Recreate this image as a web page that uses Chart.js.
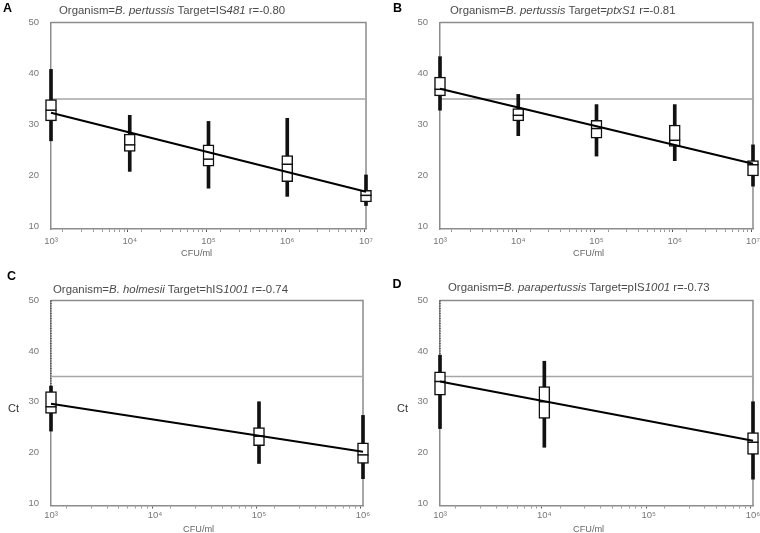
<!DOCTYPE html>
<html><head><meta charset="utf-8">
<script src="https://cdn.jsdelivr.net/npm/chart.js@4/dist/chart.umd.min.js"></script>
<style>
html,body{margin:0;padding:0;background:#fff;overflow:hidden;width:760px;height:533px;}
body{position:relative;font-family:"Liberation Sans",Arial,sans-serif;}
canvas{position:absolute;}
.lt{position:absolute;font-weight:bold;font-size:12.5px;color:#000;line-height:1;white-space:nowrap;}
.ti{position:absolute;font-size:11.4px;color:#4a4a4a;white-space:nowrap;line-height:1;}
.ax{position:absolute;font-size:9.2px;color:#666;white-space:nowrap;line-height:1;}
.ct{position:absolute;font-size:11px;color:#333;white-space:nowrap;line-height:1;}
</style></head><body>
<canvas id="cA" width="380" height="265" style="left:0;top:0"></canvas>
<canvas id="cB" width="380" height="265" style="left:380px;top:0"></canvas>
<canvas id="cC" width="380" height="268" style="left:0;top:265px"></canvas>
<canvas id="cD" width="380" height="268" style="left:380px;top:265px"></canvas>

<div class="lt" style="left:3px;top:1.5px">A</div>
<div class="lt" style="left:393px;top:1.5px">B</div>
<div class="lt" style="left:7px;top:269.5px">C</div>
<div class="lt" style="left:392.5px;top:278px">D</div>

<div class="ti" style="left:59px;top:5.4px">Organism=<i>B. pertussis</i> Target=IS<i>481</i> r=-0.80</div>
<div class="ti" style="left:450px;top:5.4px">Organism=<i>B. pertussis</i> Target=<i>ptxS1</i> r=-0.81</div>
<div class="ti" style="left:53px;top:283.7px">Organism=<i>B. holmesii</i> Target=hIS<i>1001</i> r=-0.74</div>
<div class="ti" style="left:448px;top:282px">Organism=<i>B. parapertussis</i> Target=pIS<i>1001</i> r=-0.73</div>

<div class="ax" style="left:181px;top:249.2px">CFU/ml</div>
<div class="ax" style="left:573px;top:249.2px">CFU/ml</div>
<div class="ax" style="left:183px;top:524.7px">CFU/ml</div>
<div class="ax" style="left:573px;top:524.7px">CFU/ml</div>

<div class="ct" style="left:8px;top:403px">Ct</div>
<div class="ct" style="left:397px;top:403px">Ct</div>

<script>
// ---- tick labels / reference values ----
const xTickValuesAB = [1e3, 1e4, 1e5, 1e6, 1e7];
const xTickLabelsAB = ['10³', '10⁴', '10⁵', '10⁶', '10⁷'];
const xTickValuesCD = [1e3, 1e4, 1e5, 1e6];
const xTickLabelsCD = ['10³', '10⁴', '10⁵', '10⁶'];
const yTickValues = [10, 20, 30, 40, 50];
const ctThreshold = 35;

// ---- Panel A: B. pertussis, IS481 ----
const cfuA = [1e3, 1e4, 1e5, 1e6, 1e7];
const whiskerLowA  = [26.8, 20.8, 17.5, 15.9, 14.1];
const boxLowA      = [30.7, 24.7, 21.8, 18.8, 14.8];
const medianA      = [32.8, 26.0, 23.2, 22.2, 16.1];
const boxHighA     = [34.9, 28.1, 26.0, 23.9, 17.1];
const whiskerHighA = [40.8, 31.8, 30.6, 31.2, 20.1];
const fitCfuA = [1e3, 1e7];
const fitCtA  = [32.3, 16.8];

// ---- Panel B: B. pertussis, ptxS1 ----
const cfuB = [1e3, 1e4, 1e5, 1e6, 1e7];
const whiskerLowB  = [32.8, 27.8, 23.8, 22.9, 17.9];
const boxLowB      = [35.6, 30.7, 27.3, 25.7, 19.9];
const medianB      = [36.9, 31.8, 29.2, 26.9, 22.1];
const boxHighB     = [39.3, 33.1, 30.8, 29.9, 22.9];
const whiskerHighB = [43.3, 35.9, 33.9, 33.9, 26.0];
const fitCfuB = [1e3, 1e7];
const fitCtB  = [37.0, 22.3];

// ---- Panel C: B. holmesii, hIS1001 ----
const cfuC = [1e3, 1e5, 1e6];
const whiskerLowC  = [24.2, 17.8, 14.8];
const boxLowC      = [27.7, 21.3, 17.8];
const medianC      = [29.0, 23.2, 19.5];
const boxHighC     = [32.0, 24.9, 21.9];
const whiskerHighC = [33.1, 30.0, 27.3];
const fitCfuC = [1e3, 1e6];
const fitCtC  = [29.6, 20.1];

// ---- Panel D: B. parapertussis, pIS1001 ----
const cfuD = [1e3, 1e4, 1e6];
const whiskerLowD  = [24.7, 21.0, 14.7];
const boxLowD      = [31.3, 26.7, 19.6];
const medianD      = [34.0, 30.0, 22.0];
const boxHighD     = [35.9, 33.0, 23.9];
const whiskerHighD = [39.2, 38.0, 30.0];
const fitCfuD = [1e3, 1e6];
const fitCtD  = [34.0, 22.3];

// frame plugin: top + right border of the plot box, optional dotted left axis
const framePlugin = {
  id: 'frame',
  beforeDatasetsDraw(chart, args, opts) {
    const {ctx, chartArea: a} = chart;
    ctx.save();
    ctx.strokeStyle = '#8c8c8c';
    ctx.lineWidth = 1.5;
    ctx.beginPath();
    ctx.moveTo(a.left, a.top);
    ctx.lineTo(a.right, a.top);
    ctx.lineTo(a.right, a.bottom);
    ctx.stroke();
    if (opts.dotted) {
      const yEnd = chart.scales.y.getPixelForValue(opts.dottedTo);
      ctx.strokeStyle = '#222';
      ctx.lineWidth = 1;
      ctx.setLineDash([1, 1.5]);
      ctx.beginPath();
      ctx.moveTo(a.left, a.top);
      ctx.lineTo(a.left, yEnd);
      ctx.stroke();
    }
    ctx.restore();
  }
};

function logTicks(min, max) {
  const out = [];
  for (let p = Math.log10(min); p < Math.log10(max); p++) {
    const base = Math.pow(10, p);
    for (let k = 1; k <= 9; k++) out.push({value: k * base});
  }
  out.push({value: max});
  return out;
}

function makePanel(id, cfg) {
  const pts = arr => cfg.x.map((x, i) => ({x, y: arr[i]}));
  const ranges = (lo, hi) => cfg.x.map((x, i) => ({x, y: [lo[i], hi[i]]}));
  new Chart(document.getElementById(id), {
    type: 'bar',
    data: {
      datasets: [
        {type: 'line', data: cfg.fitX.map(x => ({x, y: ctThreshold})), borderColor: '#a6a6a6',
         borderWidth: 1.5, pointRadius: 0, order: 5},
        {type: 'bar', data: ranges(cfg.wl, cfg.wh), backgroundColor: '#111', borderWidth: 0,
         barThickness: 3, grouped: false, order: 4, clip: false},
        {type: 'bar', data: ranges(cfg.bl, cfg.bh), backgroundColor: '#fff', borderColor: '#111',
         borderWidth: 1.5, borderSkipped: false, barThickness: 11, grouped: false, order: 3, clip: false},
        {type: 'line', data: pts(cfg.med), showLine: false, pointStyle: 'line', pointRadius: 5.5,
         pointBorderColor: '#111', pointBorderWidth: 1.5, borderColor: '#111', order: 2, clip: false},
        {type: 'line', data: cfg.fitX.map((x, i) => ({x, y: cfg.fit[i]})), borderColor: '#000',
         borderWidth: 2, pointRadius: 0, order: 1, clip: false}
      ]
    },
    options: {
      responsive: false,
      animation: false,
      events: [],
      layout: {padding: {top: cfg.padTop, right: cfg.padRight, left: 0, bottom: 0}},
      plugins: {
        legend: {display: false},
        tooltip: {enabled: false},
        frame: {dotted: cfg.dotted, dottedTo: cfg.wl[0]}
      },
      scales: {
        x: {
          type: 'logarithmic', min: cfg.xmin, max: cfg.xmax, offset: false,
          grid: {display: true, drawOnChartArea: false, drawTicks: true, tickLength: 3,
                 tickColor: c => (cfg.xt.includes(c.tick && c.tick.value) ? '#555' : '#999'), lineWidth: 1},
          border: {display: true, color: '#8c8c8c', width: 1.5},
          ticks: {autoSkip: false, maxRotation: 0, padding: cfg.xPad, color: '#777',
                  font: {size: 9.5, family: '"Liberation Sans", Arial, sans-serif'},
                  callback: v => { const i = cfg.xt.indexOf(v); return i >= 0 ? cfg.xl[i] : ''; }},
          afterBuildTicks: s => { s.ticks = logTicks(cfg.xmin, cfg.xmax); },
          afterFit: s => { s.height = cfg.xH; s.paddingLeft = 0; s.paddingRight = 0; }
        },
        y: {
          type: 'linear', min: 9.5, max: 50,
          grid: {display: false, drawTicks: false},
          border: {display: true, color: '#8c8c8c', width: 1.5},
          ticks: {padding: 12, color: '#777', font: {size: 9.5, family: '"Liberation Sans", Arial, sans-serif'}},
          afterBuildTicks: s => { s.ticks = yTickValues.map(v => ({value: v})); },
          afterFit: s => { s.width = cfg.yW; }
        }
      }
    },
    plugins: [framePlugin]
  });
}

makePanel('cA', {x: cfuA, wl: whiskerLowA, bl: boxLowA, med: medianA, bh: boxHighA, wh: whiskerHighA,
  fitX: fitCfuA, fit: fitCtA, xt: xTickValuesAB, xl: xTickLabelsAB, xmin: 1e3, xmax: 1e7,
  padTop: 22.5, padRight: 14, yW: 51, xH: 36, xPad: 4, dotted: false});
makePanel('cB', {x: cfuB, wl: whiskerLowB, bl: boxLowB, med: medianB, bh: boxHighB, wh: whiskerHighB,
  fitX: fitCfuB, fit: fitCtB, xt: xTickValuesAB, xl: xTickLabelsAB, xmin: 1e3, xmax: 1e7,
  padTop: 22.5, padRight: 5, yW: 60, xH: 36, xPad: 4, dotted: false});
makePanel('cC', {x: cfuC, wl: whiskerLowC, bl: boxLowC, med: medianC, bh: boxHighC, wh: whiskerHighC,
  fitX: fitCfuC, fit: fitCtC, xt: xTickValuesCD, xl: xTickLabelsCD, xmin: 1e3, xmax: 1e6,
  padTop: 35.5, padRight: 17, yW: 51, xH: 27.5, xPad: 1.5, dotted: true});
makePanel('cD', {x: cfuD, wl: whiskerLowD, bl: boxLowD, med: medianD, bh: boxHighD, wh: whiskerHighD,
  fitX: fitCfuD, fit: fitCtD, xt: xTickValuesCD, xl: xTickLabelsCD, xmin: 1e3, xmax: 1e6,
  padTop: 35.5, padRight: 6, yW: 60, xH: 27.5, xPad: 1.5, dotted: true});
</script>
</body></html>
